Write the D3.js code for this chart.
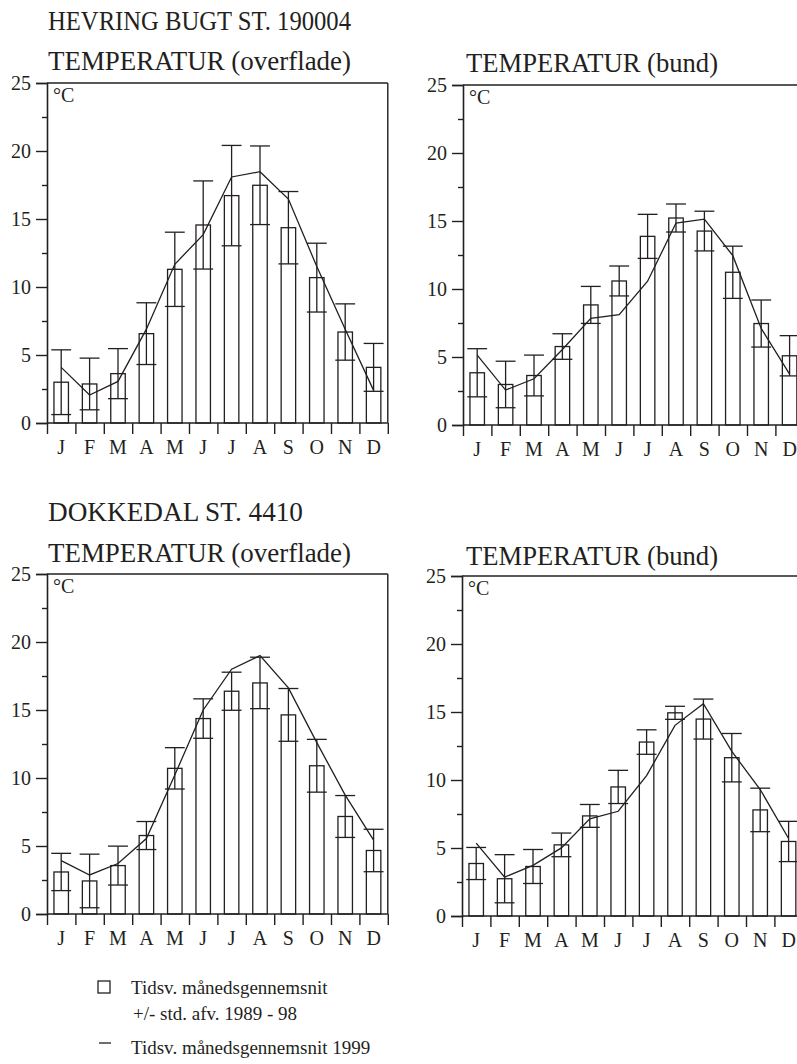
<!DOCTYPE html>
<html>
<head>
<meta charset="utf-8">
<script src="https://cdn.jsdelivr.net/npm/d3@7"></script>
<style>
  html, body { margin: 0; padding: 0; background: #fff; }
  svg { display: block; }
  text { font-family: "Liberation Serif", "Times New Roman", serif; fill: #231f20; }
</style>
</head>
<body>
<svg id="chart" width="797" height="1064"></svg>
<script>
// ---------- data ----------
const months = ["J", "F", "M", "A", "M", "J", "J", "A", "S", "O", "N", "D"];
const yTicks = [0, 5, 10, 15, 20, 25];
const yMinorTicks = [2.5, 7.5, 12.5, 17.5, 22.5];

// Hevring Bugt st. 190004 – surface
const hevSurfMean = [3.0, 2.87, 3.63, 6.57, 11.3, 14.56, 16.72, 17.48, 14.36, 10.69, 6.69, 4.09];
const hevSurfSd   = [2.38, 1.9, 1.84, 2.27, 2.73, 3.24, 3.69, 2.89, 2.66, 2.53, 2.07, 1.76];
const hevSurf1999 = [4.09, 2.06, 3.06, 6.9, 11.67, 13.85, 18.09, 18.48, 16.47, 11.5, 6.9, 2.4];

// Hevring Bugt st. 190004 – bottom
const hevBotMean = [3.84, 2.98, 3.64, 5.77, 8.83, 10.59, 13.87, 15.22, 14.26, 11.23, 7.46, 5.09];
const hevBotSd   = [1.77, 1.71, 1.5, 0.94, 1.36, 1.1, 1.62, 1.03, 1.46, 1.92, 1.73, 1.48];
const hevBot1999 = [5.14, 2.57, 3.4, 5.55, 7.85, 8.12, 10.57, 14.85, 15.14, 12.45, 7.1, 3.74];

// Dokkedal st. 4410 – surface
const dokSurfMean = [3.09, 2.43, 3.56, 5.77, 10.71, 14.37, 16.38, 16.99, 14.64, 10.9, 7.17, 4.67];
const dokSurfSd   = [1.37, 1.97, 1.43, 1.03, 1.52, 1.45, 1.4, 1.89, 1.94, 1.94, 1.54, 1.56];
const dokSurf1999 = [3.93, 2.87, 3.71, 5.55, 10.22, 15.0, 18.0, 19.0, 16.63, 12.6, 8.74, 5.43];

// Dokkedal st. 4410 – bottom
const dokBotMean = [3.86, 2.74, 3.64, 5.23, 7.36, 9.49, 12.79, 14.94, 14.48, 11.64, 7.8, 5.48];
const dokBotSd   = [1.18, 1.77, 1.25, 0.87, 0.84, 1.22, 0.9, 0.48, 1.47, 1.78, 1.6, 1.48];
const dokBot1999 = [5.36, 2.86, 3.72, 5.01, 7.14, 7.7, 10.32, 14.02, 15.61, 12.1, 9.3, 5.7];

const stationTitles = ["HEVRING BUGT ST. 190004", "DOKKEDAL ST. 4410"];
const panelTitles = ["TEMPERATUR (overflade)", "TEMPERATUR (bund)"];
const unitLabel = "°C";
const legendLines = ["Tidsv. månedsgennemsnit", "+/- std. afv. 1989 - 98", "Tidsv. månedsgennemsnit 1999"];

// ---------- layout ----------
const svg = d3.select("#chart");
const ink = "#231f20";
const plotW = 340.8, plotH = 340;

const panels = [
  {x0: 47,  top: 83,  mean: hevSurfMean, sd: hevSurfSd, line: hevSurf1999},
  {x0: 463, top: 85,  mean: hevBotMean,  sd: hevBotSd,  line: hevBot1999},
  {x0: 47,  top: 574, mean: dokSurfMean, sd: dokSurfSd, line: dokSurf1999},
  {x0: 462, top: 576, mean: dokBotMean,  sd: dokBotSd,  line: dokBot1999}
];

panels.forEach(p => {
  const g = svg.append("g").attr("transform", `translate(${p.x0},${p.top})`);
  const y = d3.scaleLinear().domain([0, 25]).range([plotH, 0]);
  const xEdge = d3.scaleLinear().domain([0, 12]).range([0, plotW]);
  const xBand = d3.scaleBand().domain(d3.range(12)).range([0, plotW]).padding(0);
  const cx = i => xBand(i) + xBand.bandwidth() / 2;
  const barW = xBand.bandwidth() * 0.51;
  const capW = xBand.bandwidth() * 0.70;

  // frame top + right
  g.append("line").attr("x1", 0).attr("x2", plotW).attr("y1", 0).attr("y2", 0)
    .attr("stroke", ink).attr("stroke-width", 1.4);
  g.append("line").attr("x1", plotW).attr("x2", plotW).attr("y1", 0).attr("y2", plotH)
    .attr("stroke", ink).attr("stroke-width", 1.4);

  // bars (outline)
  g.selectAll("rect.bar").data(p.mean).join("rect")
    .attr("class", "bar")
    .attr("x", (d, i) => cx(i) - barW / 2)
    .attr("width", barW)
    .attr("y", d => y(d))
    .attr("height", d => y(0) - y(d))
    .attr("fill", "none").attr("stroke", ink).attr("stroke-width", 1.3);

  // error bars
  const eb = g.selectAll("g.err").data(p.mean.map((m, i) => ({m, s: p.sd[i], i}))).join("g").attr("class", "err");
  eb.append("line")
    .attr("x1", d => cx(d.i)).attr("x2", d => cx(d.i))
    .attr("y1", d => y(d.m - d.s)).attr("y2", d => y(d.m + d.s))
    .attr("stroke", ink).attr("stroke-width", 1.3);
  eb.append("line")
    .attr("x1", d => cx(d.i) - capW / 2).attr("x2", d => cx(d.i) + capW / 2)
    .attr("y1", d => y(d.m + d.s)).attr("y2", d => y(d.m + d.s))
    .attr("stroke", ink).attr("stroke-width", 1.3);
  eb.append("line")
    .attr("x1", d => cx(d.i) - capW / 2).attr("x2", d => cx(d.i) + capW / 2)
    .attr("y1", d => y(d.m - d.s)).attr("y2", d => y(d.m - d.s))
    .attr("stroke", ink).attr("stroke-width", 1.3);

  // 1999 line
  g.append("path").datum(p.line)
    .attr("d", d3.line().x((d, i) => cx(i)).y(d => y(d)))
    .attr("fill", "none").attr("stroke", ink).attr("stroke-width", 1.3);

  // y axis (major + minor)
  const yAx = g.append("g").call(d3.axisLeft(y).tickValues(yTicks).tickSize(11).tickPadding(5).tickFormat(d3.format("d")));
  const yMin = g.append("g").call(d3.axisLeft(y).tickValues(yMinorTicks).tickSize(5).tickFormat(""));
  [yAx, yMin].forEach(a => {
    a.select(".domain").attr("stroke", ink).attr("stroke-width", 1.6);
    a.selectAll(".tick line").attr("stroke", ink).attr("stroke-width", 1.4);
  });
  yMin.select(".domain").remove();
  yAx.selectAll(".tick text").style("font-family", '"Liberation Serif", serif').style("font-size", "20px").attr("fill", ink);

  // x axis ticks at month edges
  const xTk = g.append("g").attr("transform", `translate(0,${plotH})`)
    .call(d3.axisBottom(xEdge).tickValues(d3.range(13)).tickSize(11).tickFormat(""));
  xTk.select(".domain").attr("stroke", ink).attr("stroke-width", 1.6).attr("d", `M0,0H${plotW}`);
  xTk.selectAll(".tick line").attr("stroke", ink).attr("stroke-width", 1.4);
  // month labels
  const xLb = g.append("g").attr("transform", `translate(0,${plotH})`)
    .call(d3.axisBottom(xBand).tickSize(0).tickPadding(17).tickFormat(i => months[i]));
  xLb.select(".domain").remove();
  xLb.selectAll(".tick text").style("font-family", '"Liberation Serif", serif').style("font-size", "20px").attr("fill", ink);

  // unit
  g.append("text").attr("x", 6).attr("y", 19).style("font-size", "20px").text(unitLabel);
});

// titles (widths fitted to the reference lettering)
const title = (txt, x, y, w) => svg.append("text").attr("x", x).attr("y", y)
  .style("font-size", "27px").attr("textLength", w).attr("lengthAdjust", "spacingAndGlyphs").text(txt);
title(stationTitles[0], 48, 30, 303);
title(panelTitles[0], 48, 70, 303);
title(panelTitles[1], 466, 72, 252);
title(stationTitles[1], 48, 521, 255);
title(panelTitles[0], 48, 562, 303);
title(panelTitles[1], 466, 565, 252);

// legend
const lg = svg.append("g");
lg.append("rect").attr("x", 98).attr("y", 981).attr("width", 12).attr("height", 12)
  .attr("fill", "none").attr("stroke", ink).attr("stroke-width", 1.3);
lg.append("line").attr("x1", 99).attr("x2", 111).attr("y1", 1043).attr("y2", 1043)
  .attr("stroke", ink).attr("stroke-width", 1.3);
lg.append("text").attr("x", 131).attr("y", 994).style("font-size", "19px").text(legendLines[0]);
lg.append("text").attr("x", 133).attr("y", 1020).style("font-size", "19px").text(legendLines[1]);
lg.append("text").attr("x", 131).attr("y", 1054).style("font-size", "19px").text(legendLines[2]);
</script>
</body>
</html>
